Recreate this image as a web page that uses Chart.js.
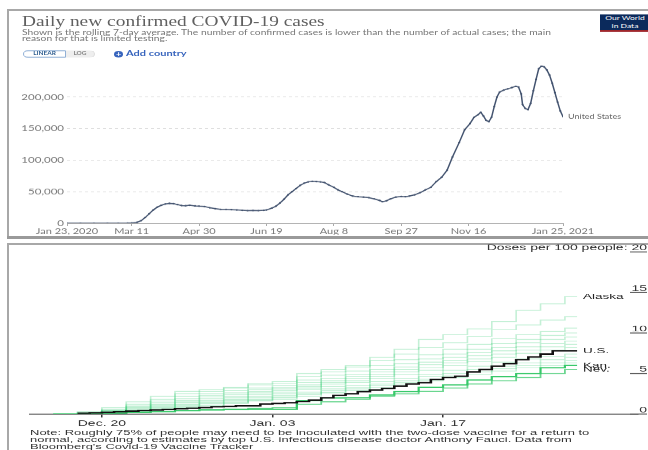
<!DOCTYPE html>
<html>
<head>
<meta charset="utf-8">
<script src="https://cdn.jsdelivr.net/npm/chart.js@4.4.1/dist/chart.umd.min.js"></script>
<style>
  html,body{margin:0;padding:0;background:#fff;width:648px;height:450px;overflow:hidden;}
  .line{position:absolute;background:#a8a8a8;}
  #top{position:absolute;left:0;top:0;width:648px;height:330px;transform-origin:0 0;transform:scaleY(0.72);}
  #bot{position:absolute;left:0;top:240px;width:648px;height:375px;transform-origin:0 0;transform:scaleY(0.56);}
  canvas{position:absolute;left:0;top:0;}
  .title{position:absolute;left:22px;top:19.5px;font:19.4px "Liberation Serif",serif;color:#606060;line-height:20px;white-space:nowrap;}
  .sub{position:absolute;left:22px;top:39.5px;font:10.3px Lato,sans-serif;color:#777;line-height:9.7px;white-space:nowrap;}
  .btns{position:absolute;left:23px;top:69.5px;height:10px;display:flex;font:bold 6.5px Lato,sans-serif;}
  .btns div{height:8px;line-height:8px;text-align:center;}
  .lin{width:41px;border:1px solid #7fa3cf;border-radius:5px 0 0 5px;color:#2c5c8f;}
  .log{width:28px;border:1px solid #ddd;border-left:none;border-radius:0 5px 5px 0;background:#eee;color:#888;}
  .add{position:absolute;left:114px;top:68px;font:bold 11px Lato,sans-serif;color:#3764bd;white-space:nowrap;line-height:12px;}
  .add span{display:inline-block;width:9px;height:9px;border-radius:50%;background:#3764bd;color:#fff;font-size:9px;line-height:9px;text-align:center;margin-right:3px;vertical-align:-1px;}
  .logo{position:absolute;left:600px;top:19.5px;width:50px;height:22px;background:#0b2a5c;border-bottom:2px solid #ce261e;color:#fff;font:8.5px Lato,sans-serif;line-height:11px;text-align:center;}
  .note{position:absolute;left:30px;top:338.4px;font:13px "Liberation Sans",Arial,sans-serif;color:#333;line-height:12.5px;white-space:nowrap;}
</style>
</head>
<body>
<div class="line" style="left:8px;top:9px;width:640px;height:1.5px;"></div>
<div class="line" style="left:7px;top:9px;width:1.5px;height:229px;"></div>
<div class="line" style="left:7px;top:236px;width:641px;height:2.5px;background:#9a9a9a;"></div>
<div class="line" style="left:8px;top:243px;width:640px;height:1.5px;"></div>
<div class="line" style="left:7px;top:243px;width:1.5px;height:207px;"></div>

<div id="top">
  <canvas id="casesChart" width="648" height="330"></canvas>
  <div class="title">Daily new confirmed COVID-19 cases</div>
  <div class="sub">Shown is the rolling 7-day average. The number of confirmed cases is lower than the number of actual cases; the main<br>reason for that is limited testing.</div>
  <div class="btns"><div class="lin">LINEAR</div><div class="log">LOG</div></div>
  <div class="add"><span>+</span>Add country</div>
  <div class="logo">Our World<br>in Data</div>
</div>

<div id="bot">
  <canvas id="dosesChart" width="648" height="375"></canvas>
  <div class="note">Note: Roughly 75% of people may need to be inoculated with the two-dose vaccine for a return to<br>normal, according to estimates by top U.S. infectious disease doctor Anthony Fauci. Data from<br>Bloomberg's Covid-19 Vaccine Tracker</div>
</div>

<script>
// ---- top chart: days since Jan 23, 2020 / 7-day average of new cases
const caseDays = [0,10,20,30,38,45,48,52,55,58,61,64,67,70,73,76,79,82,85,88,91,95,98,102,106,110,114,118,122,126,130,134,138,142,146,148,152,155,158,161,164,167,170,173,176,179,182,185,188,191,194,198,201,204,208,212,216,220,224,228,232,234,237,240,244,248,251,254,258,262,266,270,274,278,282,286,291,295,299,302,305,307,309,311,313,315,317,319,321,324,327,330,333,335,337,338,340,342,344,346,348,350,352,354,356,358,360,362,364,366,368];
const caseValues = [0,0,0,0,10,150,400,1500,4000,9000,15000,21000,25500,28500,30500,31500,31000,29500,28000,27800,28500,27500,27000,26500,24500,23000,22000,22000,21500,21000,20500,20000,20200,20000,20500,21000,24000,27000,32000,38000,45000,50000,55000,60000,63500,65500,66500,66000,65500,64500,61000,57000,53000,50000,46000,43000,42000,41500,40500,38500,36000,34000,35500,38500,41500,42500,42000,43000,45000,48500,53000,57000,66000,73000,84000,105000,128000,148000,158000,168000,172000,176000,170000,163000,161000,168000,185000,200000,208000,211000,213000,215000,217000,216000,205000,188000,182000,180000,190000,210000,228000,245000,249000,248000,243000,235000,222000,207000,192000,178000,169000];
const caseTickDays = [0,48,98,148,198,248,298,368];
const caseTickLabels = ['Jan 23, 2020','Mar 11','Apr 30','Jun 19','Aug 8','Sep 27','Nov 16','Jan 25, 2021'];
const caseYTicks = [0,50000,100000,150000,200000];

// ---- bottom chart: days since Dec. 20 / doses per 100 people
const usDays = [-2,-1,0,1,2,3,4,5,6,7,8,9,10,11,12,13,14,15,16,17,18,19,20,21,22,23,24,25,26,27,28,29,30,31,32,33,34,35,36,37,38,39];
const usDoses = [0.1,0.15,0.2,0.3,0.35,0.45,0.5,0.55,0.65,0.7,0.8,0.9,0.95,1.0,1.0,1.23,1.3,1.4,1.55,1.73,2.0,2.3,2.5,2.75,2.96,3.16,3.45,3.7,3.86,4.27,4.5,4.66,5.2,5.5,5.9,6.2,6.7,7.05,7.4,7.8,7.8,7.8];
const stateDays = [-4,-2,0,2,4,6,8,10,12,14,16,18,20,22,24,26,28,30,32,34,36,38,39];
const alaskaDoses = [0,0.3,0.8,1.5,2.2,2.8,3.0,3.3,3.8,4.0,5.0,5.5,6.0,7.0,8.0,9.2,9.8,10.5,11.4,12.8,13.6,14.5,14.5];
const kansasDoses = [0,0,0.1,0.2,0.3,0.4,0.5,0.55,0.6,0.6,1.64,1.97,2.0,2.35,2.75,3.3,3.6,4.2,4.6,5.0,5.7,6.0,6.0];
const nevadaDoses = [0,0,0.1,0.2,0.3,0.4,0.5,0.6,0.7,0.8,1.2,1.5,1.8,2.2,2.5,2.8,3.2,3.7,4.1,4.5,5.0,5.5,5.5];
const otherStates = [
  [0,0.2,0.6,1.2,1.8,2.5,2.8,3.2,3.6,3.8,4.6,5.2,5.8,6.6,7.4,8.2,8.8,9.6,10.4,11.0,11.6,12.0,12.0],
  [0,0.1,0.5,1.0,1.6,2.2,2.5,2.9,3.2,3.5,4.2,4.8,5.3,6.0,6.7,7.3,8.0,8.6,9.3,9.8,10.2,10.6,10.6],
  [0,0.1,0.4,0.9,1.4,1.9,2.3,2.6,3.0,3.3,3.9,4.4,4.9,5.5,6.2,6.8,7.4,8.0,8.7,9.2,9.7,10.0,10.0],
  [0,0.1,0.4,0.8,1.2,1.7,2.1,2.4,2.8,3.1,3.6,4.1,4.6,5.2,5.8,6.4,7.0,7.6,8.2,8.8,9.2,9.5,9.5],
  [0,0,0.3,0.7,1.1,1.5,1.9,2.2,2.6,2.9,3.4,3.9,4.4,4.9,5.5,6.1,6.6,7.2,7.8,8.3,8.7,9.0,9.0],
  [0,0,0.3,0.6,1.0,1.4,1.7,2.0,2.4,2.7,3.2,3.7,4.1,4.6,5.2,5.7,6.3,6.8,7.4,7.9,8.3,8.6,8.6],
  [0,0,0.2,0.5,0.9,1.2,1.5,1.8,2.2,2.5,3.0,3.4,3.9,4.4,4.9,5.4,6.0,6.5,7.0,7.5,7.9,8.2,8.2],
  [0,0,0.2,0.4,0.8,1.1,1.4,1.7,2.0,2.3,2.7,3.1,3.5,4.0,4.4,4.9,5.4,5.9,6.4,6.8,7.1,7.4,7.4],
  [0,0,0.1,0.4,0.7,1.0,1.3,1.5,1.8,2.1,2.5,2.9,3.3,3.7,4.1,4.6,5.0,5.5,5.9,6.3,6.7,7.0,7.0],
  [0,0,0.1,0.3,0.6,0.9,1.1,1.4,1.7,2.0,2.4,2.7,3.1,3.5,3.9,4.3,4.7,5.2,5.6,6.0,6.3,6.6,6.6],
  [0,0,0.1,0.3,0.5,0.8,1.0,1.3,1.6,1.8,2.2,2.6,2.9,3.3,3.7,4.1,4.5,4.9,5.3,5.7,6.0,6.3,6.3]
];
const doseTickDays = [0,14,28];
const doseTickLabels = ['Dec. 20','Jan. 03','Jan. 17'];
const doseYTicks = [0,5,10,15,20];
const doseYLabels = ['0','5','10','15','Doses per 100 people: 20'];

const pts = (xs, ys) => xs.map((x,i)=>({x, y: ys[i]}));

// writes a name next to the last point of any dataset that has endLabel
const endLabel = {
  id:'endLabel',
  afterDatasetsDraw(chart){
    const ctx = chart.ctx;
    chart.data.datasets.forEach((ds,i)=>{
      if (!ds.endLabel) return;
      const meta = chart.getDatasetMeta(i);
      const p = meta.data[meta.data.length-1];
      ctx.save();
      ctx.font = ds.endFont; ctx.fillStyle = ds.endColor; ctx.textBaseline = 'middle';
      ctx.fillText(ds.endLabel, p.x + ds.endGap, p.y);
      ctx.restore();
    });
  }
};

const sans = 'Lato, sans-serif';
const arial = '"Liberation Sans", Arial, sans-serif';

new Chart(document.getElementById('casesChart'), {
  type:'line',
  data:{ datasets:[{
    data: pts(caseDays, caseValues),
    borderColor:'#43536f', borderWidth:1.5, pointRadius:1.1, pointBorderWidth:0,
    pointBackgroundColor:'#43536f', tension:0,
    endLabel:'United States', endFont:'9px '+sans, endColor:'#666', endGap:5
  }]},
  options:{
    responsive:false, animation:false,
    layout:{padding:{left:7,right:85,top:91,bottom:4}},
    plugins:{legend:{display:false},tooltip:{enabled:false}},
    scales:{
      x:{type:'linear',min:0,max:368,
        afterBuildTicks:s=>{ s.ticks = caseTickDays.map(v=>({value:v})); },
        afterFit:s=>{ s.height = 16; },
        ticks:{callback:v=>caseTickLabels[caseTickDays.indexOf(v)],autoSkip:false,maxRotation:0,
               font:{family:sans,size:11},color:'#777',padding:1},
        grid:{drawOnChartArea:false,drawTicks:true,tickLength:4,color:'#aaa'},
        border:{display:true,color:'#aaa'}},
      y:{min:0,max:250000,
        afterBuildTicks:s=>{ s.ticks = caseYTicks.map(v=>({value:v})); },
        afterFit:s=>{ s.width = 60; },
        ticks:{callback:v=>v.toLocaleString('en-US'),font:{family:sans,size:11.5},color:'#777',padding:3},
        grid:{drawTicks:false,color:c=>c.tick && c.tick.value===0 ? '#aaa' : '#ddd'},
        border:{display:false,dash:c=>c.tick && c.tick.value===0 ? [] : [3,3]}}
    }
  },
  plugins:[endLabel]
});

// short rules and numbers at the right edge of the doses chart
const doseAxis = {
  id:'doseAxis',
  afterDraw(chart){
    const ctx = chart.ctx, y = chart.scales.y, right = chart.chartArea.right;
    ctx.save();
    ctx.font = '14px '+arial; ctx.fillStyle = '#333'; ctx.textAlign = 'right';
    ctx.strokeStyle = '#555'; ctx.lineWidth = 1.8;
    doseYTicks.forEach((v,i)=>{
      const py = y.getPixelForValue(v);
      ctx.beginPath(); ctx.moveTo(right-8, py); ctx.lineTo(right+9, py); ctx.stroke();
      ctx.fillText(doseYLabels[i], right+9, py-3);
    });
    ctx.restore();
  }
};

const faint = 'rgba(60,205,120,0.3)';
const doseSets = [
  {data:pts(usDays,usDoses),borderColor:'#111',borderWidth:2.6,
   endLabel:'U.S.',endFont:'13.5px '+arial,endColor:'#222',endGap:6},
  {data:pts(stateDays,kansasDoses),borderColor:'#38c96a',borderWidth:2.2,
   endLabel:'Kan.',endFont:'13.5px '+arial,endColor:'#222',endGap:6},
  {data:pts(stateDays,nevadaDoses),borderColor:'rgba(56,200,106,0.75)',borderWidth:1.8,
   endLabel:'Nev.',endFont:'13.5px '+arial,endColor:'#222',endGap:6},
  {data:pts(stateDays,alaskaDoses),borderColor:faint,borderWidth:1.6,
   endLabel:'Alaska',endFont:'13.5px '+arial,endColor:'#222',endGap:6}
].concat(otherStates.map(s=>({data:pts(stateDays,s),borderColor:faint,borderWidth:1.6})));
doseSets.forEach(d=>{ d.stepped = true; d.pointRadius = 0; d.tension = 0; });

new Chart(document.getElementById('dosesChart'), {
  type:'line',
  data:{datasets:doseSets},
  options:{
    responsive:false, animation:false,
    layout:{padding:{left:30,right:10,top:21.4,bottom:38.3}},
    plugins:{legend:{display:false},tooltip:{enabled:false}},
    scales:{
      x:{type:'linear',min:-5.9,max:44,
        afterBuildTicks:s=>{ s.ticks = doseTickDays.map(v=>({value:v})); },
        afterFit:s=>{ s.height = 26; },
        ticks:{callback:v=>doseTickLabels[doseTickDays.indexOf(v)],autoSkip:false,maxRotation:0,
               font:{family:arial,size:14},color:'#333',padding:3},
        grid:{drawOnChartArea:false,drawTicks:true,tickLength:6,color:'#333',lineWidth:1.5},
        border:{display:true,color:'#555',width:1.8}},
      y:{display:false,min:0,max:20}
    }
  },
  plugins:[endLabel, doseAxis]
});
</script>
</body>
</html>
